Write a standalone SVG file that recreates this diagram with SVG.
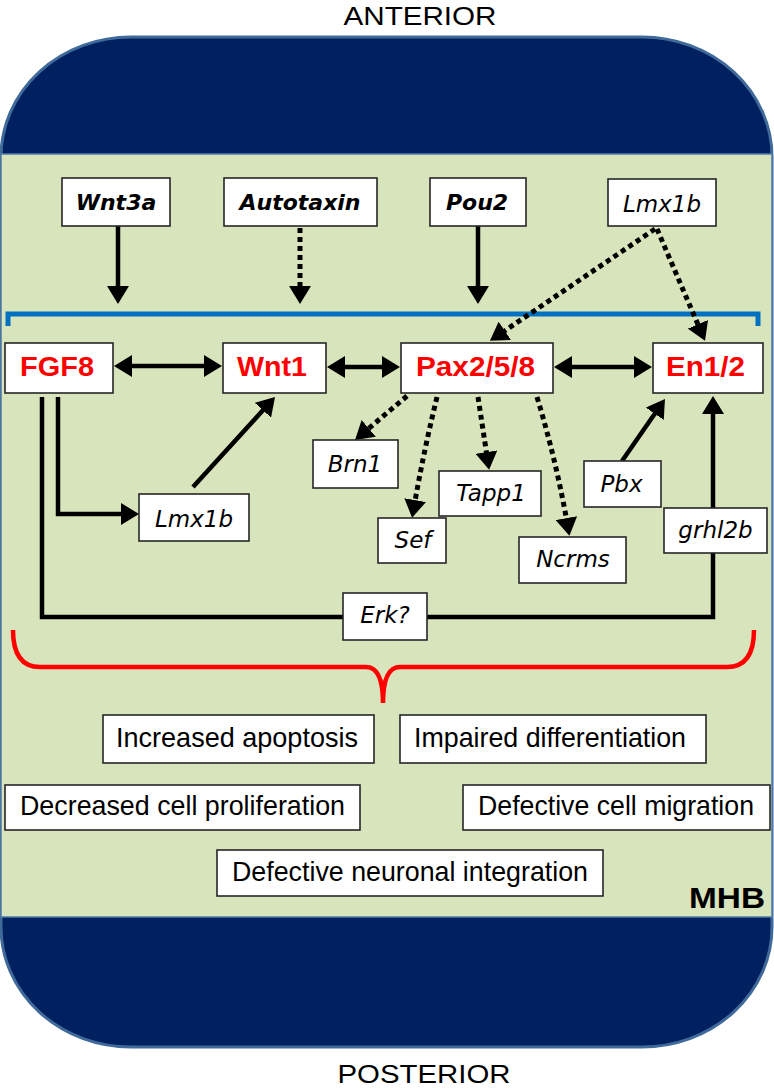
<svg xmlns="http://www.w3.org/2000/svg" width="774" height="1089" viewBox="0 0 774 1089">
<style>
.box{fill:#fff;stroke:#262626;stroke-width:1.6}
.red{font-family:"Liberation Sans",Arial,sans-serif;font-weight:bold;font-size:27px;fill:#ff0000;text-anchor:middle}
.top{font-family:"DejaVu Sans",Verdana,sans-serif;font-weight:bold;font-style:italic;font-size:22px;fill:#000;text-anchor:middle}
.it{font-family:"DejaVu Sans",Verdana,sans-serif;font-style:italic;font-size:23px;fill:#000;text-anchor:middle}
.eff{font-family:"Liberation Sans",Arial,sans-serif;font-size:28px;fill:#000;text-anchor:middle}
.lbl{font-family:"Liberation Sans",Arial,sans-serif;font-size:25px;fill:#000;text-anchor:middle}
.sol{fill:none;stroke:#000;stroke-width:4.5}
.dot{fill:none;stroke:#000;stroke-width:5;stroke-dasharray:5 4}
</style>
<defs>
<marker id="ah" markerUnits="userSpaceOnUse" markerWidth="18" markerHeight="22" viewBox="0 0 18 22" refX="4" refY="11" orient="auto-start-reverse">
<path d="M0,0 L18,11 L0,22 z" fill="#000"/>
</marker>
</defs>
<g id="background">
<path d="M1,157 L1,927 A130,120 0 0 0 131,1047 L642,1047 A130,120 0 0 0 772,927 L772,157 A130,120 0 0 0 642,37 L131,37 A130,120 0 0 0 1,157 z" fill="#002060" stroke="#3f6a9a" stroke-width="3"/>
<rect x="1" y="154" width="771" height="763" fill="#d8e4bc" stroke="#4f79a8" stroke-width="1.5"/>
</g>
<text class="lbl" x="420" y="25" textLength="153" lengthAdjust="spacingAndGlyphs">ANTERIOR</text>
<text class="lbl" x="424" y="1083" textLength="173" lengthAdjust="spacingAndGlyphs">POSTERIOR</text>
<text x="765" y="908" text-anchor="end" font-family="Liberation Sans,Arial,sans-serif" font-weight="bold" font-size="30" textLength="76" lengthAdjust="spacingAndGlyphs">MHB</text>
<g id="brackets">
<path d="M8,326 L8,314 L758,314 L758,326" fill="none" stroke="#0070c0" stroke-width="5"/>
<path d="M13,630 Q13,667 40,667 L366,667 Q383,667 383,703 Q383,667 400,667 L727,667 Q754,667 754,630" fill="none" stroke="#ff0000" stroke-width="4.5"/>
</g>
<g id="connectors">
<line class="sol" x1="118" y1="226" x2="118" y2="290" marker-end="url(#ah)"/>
<line class="dot" x1="300" y1="228" x2="300" y2="290" marker-end="url(#ah)"/>
<line class="sol" x1="478" y1="226" x2="478" y2="290" marker-end="url(#ah)"/>
<line class="dot" x1="655" y1="229" x2="501.5" y2="333" marker-end="url(#ah)"/>
<line class="dot" x1="657" y1="229" x2="699.5" y2="328" marker-end="url(#ah)"/>
<line class="sol" x1="128" y1="366" x2="208" y2="366" marker-start="url(#ah)" marker-end="url(#ah)"/>
<line class="sol" x1="341" y1="367" x2="386" y2="367" marker-start="url(#ah)" marker-end="url(#ah)"/>
<line class="sol" x1="568" y1="367" x2="638" y2="367" marker-start="url(#ah)" marker-end="url(#ah)"/>
<path class="sol" d="M58,397 L58,514 L125,514" marker-end="url(#ah)"/>
<line class="sol" x1="193" y1="487" x2="265.6" y2="407.3" marker-end="url(#ah)"/>
<line class="dot" x1="407" y1="396" x2="365.7" y2="431" marker-end="url(#ah)"/>
<path class="dot" d="M437,397 Q424,450 414.5,504" marker-end="url(#ah)"/>
<line class="dot" x1="478" y1="397" x2="487" y2="456" marker-end="url(#ah)"/>
<path class="dot" d="M537,397 Q556,460 567,522" marker-end="url(#ah)"/>
<line class="sol" x1="622" y1="461" x2="657" y2="410.5" marker-end="url(#ah)"/>
<path class="sol" d="M42,397 L42,617 L713,617 L713,410" marker-end="url(#ah)"/>
</g>
<g id="n-wnt3a"><rect class="box" x="62" y="178" width="108" height="48"/><text class="top" x="116" y="210">Wnt3a</text></g>
<g id="n-autotaxin"><rect class="box" x="224" y="178" width="153" height="48"/><text class="top" x="300" y="210">Autotaxin</text></g>
<g id="n-pou2"><rect class="box" x="430" y="178" width="96" height="48"/><text class="top" x="477" y="210">Pou2</text></g>
<g id="n-lmx1b-top"><rect class="box" x="608" y="179" width="108" height="47"/><text class="it" x="662" y="212">Lmx1b</text></g>
<g id="n-fgf8"><rect class="box" x="5" y="343" width="108" height="50"/><text class="red" x="57" y="376" textLength="74" lengthAdjust="spacingAndGlyphs">FGF8</text></g>
<g id="n-wnt1"><rect class="box" x="223" y="343" width="103" height="50"/><text class="red" x="272" y="376" textLength="70" lengthAdjust="spacingAndGlyphs">Wnt1</text></g>
<g id="n-pax"><rect class="box" x="401" y="343" width="152" height="50"/><text class="red" x="475.5" y="376" textLength="119" lengthAdjust="spacingAndGlyphs">Pax2/5/8</text></g>
<g id="n-en"><rect class="box" x="653" y="343" width="110" height="50"/><text class="red" x="705.5" y="376" textLength="79" lengthAdjust="spacingAndGlyphs">En1/2</text></g>
<g id="n-brn1"><rect class="box" x="313" y="440" width="85" height="48"/><text class="it" x="355" y="472">Brn1</text></g>
<g id="n-lmx1b-mid"><rect class="box" x="139" y="494" width="110" height="47"/><text class="it" x="194" y="527">Lmx1b</text></g>
<g id="n-sef"><rect class="box" x="378" y="518" width="68" height="45"/><text class="it" x="413" y="548">Sef</text></g>
<g id="n-tapp1"><rect class="box" x="439" y="471" width="102" height="45"/><text class="it" x="491" y="501">Tapp1</text></g>
<g id="n-ncrms"><rect class="box" x="519" y="537" width="107" height="46"/><text class="it" x="573" y="567">Ncrms</text></g>
<g id="n-pbx"><rect class="box" x="584" y="461" width="77" height="46"/><text class="it" x="621.5" y="492">Pbx</text></g>
<g id="n-grhl2b"><rect class="box" x="664" y="508" width="103" height="45"/><text class="it" x="715.5" y="538">grhl2b</text></g>
<g id="n-erk"><rect class="box" x="343" y="593" width="84" height="47"/><text class="it" x="385" y="623">Erk?</text></g>
<g id="n-apoptosis"><rect class="box" x="103" y="715" width="271" height="48"/><text class="eff" x="237" y="747" textLength="242" lengthAdjust="spacingAndGlyphs">Increased apoptosis</text></g>
<g id="n-differentiation"><rect class="box" x="400" y="715" width="306" height="48"/><text class="eff" x="550" y="747" textLength="272" lengthAdjust="spacingAndGlyphs">Impaired differentiation</text></g>
<g id="n-proliferation"><rect class="box" x="5" y="785" width="355" height="45"/><text class="eff" x="182.5" y="815" textLength="325" lengthAdjust="spacingAndGlyphs">Decreased cell proliferation</text></g>
<g id="n-migration"><rect class="box" x="463" y="785" width="307" height="45"/><text class="eff" x="616" y="815" textLength="276" lengthAdjust="spacingAndGlyphs">Defective cell migration</text></g>
<g id="n-integration"><rect class="box" x="217" y="850" width="386" height="46"/><text class="eff" x="410" y="881" textLength="356" lengthAdjust="spacingAndGlyphs">Defective neuronal integration</text></g>
</svg>
